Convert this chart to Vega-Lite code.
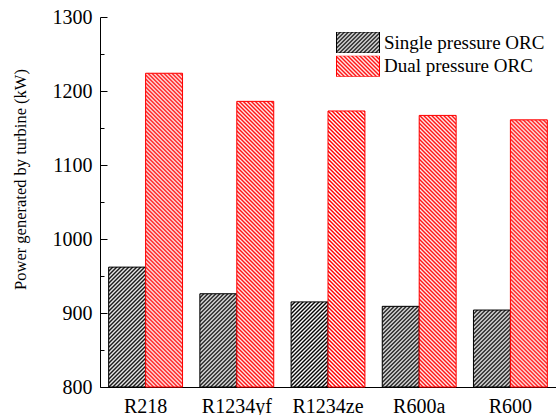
{
"$schema": "https://vega.github.io/schema/vega-lite/v6.json",
"width": 456, "height": 370,
"autosize": "none",
"padding": {"left": 100, "top": 17, "right": 0, "bottom": 28},
"background": "white",
"config": {"view": {"stroke": null}, "font": "Liberation Serif"},
"params": [
{"name": "hatch", "value": [
{"offset":0,"color":"#fff0"},{"offset":0.0056,"color":"#fff"},{"offset":0.0111,"color":"#fff0"},{"offset":0.0167,"color":"#fff"},{"offset":0.0222,"color":"#fff0"},{"offset":0.0278,"color":"#fff"},{"offset":0.0333,"color":"#fff0"},{"offset":0.0389,"color":"#fff"},{"offset":0.0444,"color":"#fff0"},{"offset":0.05,"color":"#fff"},{"offset":0.0556,"color":"#fff0"},{"offset":0.0611,"color":"#fff"},{"offset":0.0667,"color":"#fff0"},{"offset":0.0722,"color":"#fff"},{"offset":0.0778,"color":"#fff0"},{"offset":0.0833,"color":"#fff"},{"offset":0.0889,"color":"#fff0"},{"offset":0.0944,"color":"#fff"},
{"offset":0.1,"color":"#fff0"},{"offset":0.1056,"color":"#fff"},{"offset":0.1111,"color":"#fff0"},{"offset":0.1167,"color":"#fff"},{"offset":0.1222,"color":"#fff0"},{"offset":0.1278,"color":"#fff"},{"offset":0.1333,"color":"#fff0"},{"offset":0.1389,"color":"#fff"},{"offset":0.1444,"color":"#fff0"},{"offset":0.15,"color":"#fff"},{"offset":0.1556,"color":"#fff0"},{"offset":0.1611,"color":"#fff"},{"offset":0.1667,"color":"#fff0"},{"offset":0.1722,"color":"#fff"},{"offset":0.1778,"color":"#fff0"},{"offset":0.1833,"color":"#fff"},{"offset":0.1889,"color":"#fff0"},{"offset":0.1944,"color":"#fff"},
{"offset":0.2,"color":"#fff0"},{"offset":0.2056,"color":"#fff"},{"offset":0.2111,"color":"#fff0"},{"offset":0.2167,"color":"#fff"},{"offset":0.2222,"color":"#fff0"},{"offset":0.2278,"color":"#fff"},{"offset":0.2333,"color":"#fff0"},{"offset":0.2389,"color":"#fff"},{"offset":0.2444,"color":"#fff0"},{"offset":0.25,"color":"#fff"},{"offset":0.2556,"color":"#fff0"},{"offset":0.2611,"color":"#fff"},{"offset":0.2667,"color":"#fff0"},{"offset":0.2722,"color":"#fff"},{"offset":0.2778,"color":"#fff0"},{"offset":0.2833,"color":"#fff"},{"offset":0.2889,"color":"#fff0"},{"offset":0.2944,"color":"#fff"},
{"offset":0.3,"color":"#fff0"},{"offset":0.3056,"color":"#fff"},{"offset":0.3111,"color":"#fff0"},{"offset":0.3167,"color":"#fff"},{"offset":0.3222,"color":"#fff0"},{"offset":0.3278,"color":"#fff"},{"offset":0.3333,"color":"#fff0"},{"offset":0.3389,"color":"#fff"},{"offset":0.3444,"color":"#fff0"},{"offset":0.35,"color":"#fff"},{"offset":0.3556,"color":"#fff0"},{"offset":0.3611,"color":"#fff"},{"offset":0.3667,"color":"#fff0"},{"offset":0.3722,"color":"#fff"},{"offset":0.3778,"color":"#fff0"},{"offset":0.3833,"color":"#fff"},{"offset":0.3889,"color":"#fff0"},{"offset":0.3944,"color":"#fff"},
{"offset":0.4,"color":"#fff0"},{"offset":0.4056,"color":"#fff"},{"offset":0.4111,"color":"#fff0"},{"offset":0.4167,"color":"#fff"},{"offset":0.4222,"color":"#fff0"},{"offset":0.4278,"color":"#fff"},{"offset":0.4333,"color":"#fff0"},{"offset":0.4389,"color":"#fff"},{"offset":0.4444,"color":"#fff0"},{"offset":0.45,"color":"#fff"},{"offset":0.4556,"color":"#fff0"},{"offset":0.4611,"color":"#fff"},{"offset":0.4667,"color":"#fff0"},{"offset":0.4722,"color":"#fff"},{"offset":0.4778,"color":"#fff0"},{"offset":0.4833,"color":"#fff"},{"offset":0.4889,"color":"#fff0"},{"offset":0.4944,"color":"#fff"},
{"offset":0.5,"color":"#fff0"},{"offset":0.5056,"color":"#fff"},{"offset":0.5111,"color":"#fff0"},{"offset":0.5167,"color":"#fff"},{"offset":0.5222,"color":"#fff0"},{"offset":0.5278,"color":"#fff"},{"offset":0.5333,"color":"#fff0"},{"offset":0.5389,"color":"#fff"},{"offset":0.5444,"color":"#fff0"},{"offset":0.55,"color":"#fff"},{"offset":0.5556,"color":"#fff0"},{"offset":0.5611,"color":"#fff"},{"offset":0.5667,"color":"#fff0"},{"offset":0.5722,"color":"#fff"},{"offset":0.5778,"color":"#fff0"},{"offset":0.5833,"color":"#fff"},{"offset":0.5889,"color":"#fff0"},{"offset":0.5944,"color":"#fff"},
{"offset":0.6,"color":"#fff0"},{"offset":0.6056,"color":"#fff"},{"offset":0.6111,"color":"#fff0"},{"offset":0.6167,"color":"#fff"},{"offset":0.6222,"color":"#fff0"},{"offset":0.6278,"color":"#fff"},{"offset":0.6333,"color":"#fff0"},{"offset":0.6389,"color":"#fff"},{"offset":0.6444,"color":"#fff0"},{"offset":0.65,"color":"#fff"},{"offset":0.6556,"color":"#fff0"},{"offset":0.6611,"color":"#fff"},{"offset":0.6667,"color":"#fff0"},{"offset":0.6722,"color":"#fff"},{"offset":0.6778,"color":"#fff0"},{"offset":0.6833,"color":"#fff"},{"offset":0.6889,"color":"#fff0"},{"offset":0.6944,"color":"#fff"},
{"offset":0.7,"color":"#fff0"},{"offset":0.7056,"color":"#fff"},{"offset":0.7111,"color":"#fff0"},{"offset":0.7167,"color":"#fff"},{"offset":0.7222,"color":"#fff0"},{"offset":0.7278,"color":"#fff"},{"offset":0.7333,"color":"#fff0"},{"offset":0.7389,"color":"#fff"},{"offset":0.7444,"color":"#fff0"},{"offset":0.75,"color":"#fff"},{"offset":0.7556,"color":"#fff0"},{"offset":0.7611,"color":"#fff"},{"offset":0.7667,"color":"#fff0"},{"offset":0.7722,"color":"#fff"},{"offset":0.7778,"color":"#fff0"},{"offset":0.7833,"color":"#fff"},{"offset":0.7889,"color":"#fff0"},{"offset":0.7944,"color":"#fff"},
{"offset":0.8,"color":"#fff0"},{"offset":0.8056,"color":"#fff"},{"offset":0.8111,"color":"#fff0"},{"offset":0.8167,"color":"#fff"},{"offset":0.8222,"color":"#fff0"},{"offset":0.8278,"color":"#fff"},{"offset":0.8333,"color":"#fff0"},{"offset":0.8389,"color":"#fff"},{"offset":0.8444,"color":"#fff0"},{"offset":0.85,"color":"#fff"},{"offset":0.8556,"color":"#fff0"},{"offset":0.8611,"color":"#fff"},{"offset":0.8667,"color":"#fff0"},{"offset":0.8722,"color":"#fff"},{"offset":0.8778,"color":"#fff0"},{"offset":0.8833,"color":"#fff"},{"offset":0.8889,"color":"#fff0"},{"offset":0.8944,"color":"#fff"},
{"offset":0.9,"color":"#fff0"},{"offset":0.9056,"color":"#fff"},{"offset":0.9111,"color":"#fff0"},{"offset":0.9167,"color":"#fff"},{"offset":0.9222,"color":"#fff0"},{"offset":0.9278,"color":"#fff"},{"offset":0.9333,"color":"#fff0"},{"offset":0.9389,"color":"#fff"},{"offset":0.9444,"color":"#fff0"},{"offset":0.95,"color":"#fff"},{"offset":0.9556,"color":"#fff0"},{"offset":0.9611,"color":"#fff"},{"offset":0.9667,"color":"#fff0"},{"offset":0.9722,"color":"#fff"},{"offset":0.9778,"color":"#fff0"},{"offset":0.9833,"color":"#fff"},{"offset":0.9889,"color":"#fff0"},{"offset":0.9944,"color":"#fff"}
]},
{"name": "legK", "value": [
{"offset":0,"color":"#000"},{"offset":0.03125,"color":"#fff"},{"offset":0.0625,"color":"#000"},{"offset":0.09375,"color":"#fff"},{"offset":0.125,"color":"#000"},{"offset":0.15625,"color":"#fff"},{"offset":0.1875,"color":"#000"},{"offset":0.21875,"color":"#fff"},{"offset":0.25,"color":"#000"},{"offset":0.28125,"color":"#fff"},{"offset":0.3125,"color":"#000"},{"offset":0.34375,"color":"#fff"},{"offset":0.375,"color":"#000"},{"offset":0.40625,"color":"#fff"},{"offset":0.4375,"color":"#000"},{"offset":0.46875,"color":"#fff"},{"offset":0.5,"color":"#000"},{"offset":0.53125,"color":"#fff"},{"offset":0.5625,"color":"#000"},{"offset":0.59375,"color":"#fff"},{"offset":0.625,"color":"#000"},{"offset":0.65625,"color":"#fff"},{"offset":0.6875,"color":"#000"},{"offset":0.71875,"color":"#fff"},{"offset":0.75,"color":"#000"},{"offset":0.78125,"color":"#fff"},{"offset":0.8125,"color":"#000"},{"offset":0.84375,"color":"#fff"},{"offset":0.875,"color":"#000"},{"offset":0.90625,"color":"#fff"},{"offset":0.9375,"color":"#000"},{"offset":0.96875,"color":"#fff"}
]},
{"name": "legR", "value": [
{"offset":0,"color":"#f00"},{"offset":0.03125,"color":"#fff"},{"offset":0.0625,"color":"#f00"},{"offset":0.09375,"color":"#fff"},{"offset":0.125,"color":"#f00"},{"offset":0.15625,"color":"#fff"},{"offset":0.1875,"color":"#f00"},{"offset":0.21875,"color":"#fff"},{"offset":0.25,"color":"#f00"},{"offset":0.28125,"color":"#fff"},{"offset":0.3125,"color":"#f00"},{"offset":0.34375,"color":"#fff"},{"offset":0.375,"color":"#f00"},{"offset":0.40625,"color":"#fff"},{"offset":0.4375,"color":"#f00"},{"offset":0.46875,"color":"#fff"},{"offset":0.5,"color":"#f00"},{"offset":0.53125,"color":"#fff"},{"offset":0.5625,"color":"#f00"},{"offset":0.59375,"color":"#fff"},{"offset":0.625,"color":"#f00"},{"offset":0.65625,"color":"#fff"},{"offset":0.6875,"color":"#f00"},{"offset":0.71875,"color":"#fff"},{"offset":0.75,"color":"#f00"},{"offset":0.78125,"color":"#fff"},{"offset":0.8125,"color":"#f00"},{"offset":0.84375,"color":"#fff"},{"offset":0.875,"color":"#f00"},{"offset":0.90625,"color":"#fff"},{"offset":0.9375,"color":"#f00"},{"offset":0.96875,"color":"#fff"}
]}
],
"data": {"values": [
{"fluid": "R218", "cycle": "Single pressure ORC", "power": 962},
{"fluid": "R218", "cycle": "Dual pressure ORC", "power": 1224},
{"fluid": "R1234yf", "cycle": "Single pressure ORC", "power": 926},
{"fluid": "R1234yf", "cycle": "Dual pressure ORC", "power": 1186},
{"fluid": "R1234ze", "cycle": "Single pressure ORC", "power": 915},
{"fluid": "R1234ze", "cycle": "Dual pressure ORC", "power": 1173},
{"fluid": "R600a", "cycle": "Single pressure ORC", "power": 909},
{"fluid": "R600a", "cycle": "Dual pressure ORC", "power": 1167},
{"fluid": "R600", "cycle": "Single pressure ORC", "power": 904},
{"fluid": "R600", "cycle": "Dual pressure ORC", "power": 1161}
]},
"encoding": {
"x": {"field": "fluid", "type": "nominal", "sort": null,
 "scale": {"paddingInner": 0.19, "paddingOuter": 0.095},
 "axis": {"title": null, "ticks": false, "labelAngle": 0, "labelFont": "Liberation Serif", "labelFontSize": 20, "labelColor": "#000", "labelPadding": 9, "domainColor": "#000", "domainWidth": 1, "grid": false}},
"xOffset": {"field": "cycle", "type": "nominal", "sort": ["Single pressure ORC", "Dual pressure ORC"],
 "scale": {"domain": ["Single pressure ORC", "Dual pressure ORC"], "paddingInner": 0, "paddingOuter": 0}},
"y": {"field": "power", "type": "quantitative", "stack": null,
 "scale": {"domain": [800, 1300], "nice": false, "zero": false},
 "axis": {"title": "Power generated by turbine (kW)", "values": [800, 850, 900, 950, 1000, 1050, 1100, 1150, 1200, 1250, 1300],
  "format": "d",
  "labelExpr": "datum.value % 100 === 0 ? datum.label : ''",
  "tickSize": {"condition": {"test": "datum.value % 100 === 0", "value": -7}, "value": -4},
  "tickColor": "#000", "tickWidth": 1, "labelPadding": 15, "labelOverlap": false, "labelBound": false,
  "labelFont": "Liberation Serif", "labelFontSize": 20, "labelColor": "#000",
  "domainColor": "#000", "domainWidth": 1, "grid": false,
  "titleFont": "Liberation Serif", "titleFontSize": 16.5, "titleFontWeight": "normal", "titleColor": "#000",
  "titleX": -75, "titleY": 162, "titleAngle": -90, "titleBaseline": "alphabetic", "titleAlign": "center"}},
"y2": {"datum": 800}
},
"layer": [
{"mark": {"type": "bar", "fill": {"expr": "datum.cycle === 'Single pressure ORC' ? '#000000' : '#ff0000'"}}},
{"mark": {"type": "bar", "strokeWidth": 1,
  "fill": {"expr": "isValid(datum.power) ? (datum.cycle === 'Single pressure ORC' ? {gradient: 'linear', x1: 0, y1: 0, x2: 360*bandwidth('xOffset')/(pow(bandwidth('xOffset'),2)+pow(scale('y',800)-scale('y',datum.power),2)), y2: 360*(scale('y',800)-scale('y',datum.power))/(pow(bandwidth('xOffset'),2)+pow(scale('y',800)-scale('y',datum.power),2)), stops: hatch} : {gradient: 'linear', x1: 0, y1: 1, x2: 360*bandwidth('xOffset')/(pow(bandwidth('xOffset'),2)+pow(scale('y',800)-scale('y',datum.power),2)), y2: 1-360*(scale('y',800)-scale('y',datum.power))/(pow(bandwidth('xOffset'),2)+pow(scale('y',800)-scale('y',datum.power),2)), stops: hatch}) : (datum.value === 'Single pressure ORC' ? {gradient: 'linear', x1: 0, y1: 0, x2: 1.2017, y2: 0.5869, stops: legK} : {gradient: 'linear', x1: 0, y1: 1, x2: 1.2017, y2: 0.4131, stops: legR})"}},
 "encoding": {"stroke": {"field": "cycle", "type": "nominal",
  "scale": {"domain": ["Single pressure ORC", "Dual pressure ORC"], "range": ["#000000", "#ff0000"]},
  "legend": {"title": null, "orient": "none", "legendX": 236, "legendY": 15, "padding": 0,
   "symbolType": "M-1,-0.4884H1V0.4884H-1Z", "symbolSize": 1849, "symbolStrokeWidth": 1,
   "labelFont": "Liberation Serif", "labelFontSize": 19, "labelColor": "#000", "labelOffset": 4, "labelLimit": 400,
   "clipHeight": 21, "rowPadding": 2.7,
   "encode": {"symbols": {"update": {
     "fill": {"signal": "datum.value === 'Single pressure ORC' ? {gradient: 'linear', x1: 0, y1: 0, x2: 1.2017, y2: 0.5869, stops: legK} : {gradient: 'linear', x1: 0, y1: 1, x2: 1.2017, y2: 0.4131, stops: legR}"},
     "opacity": {"value": 1}}}}}}}}
]
}
